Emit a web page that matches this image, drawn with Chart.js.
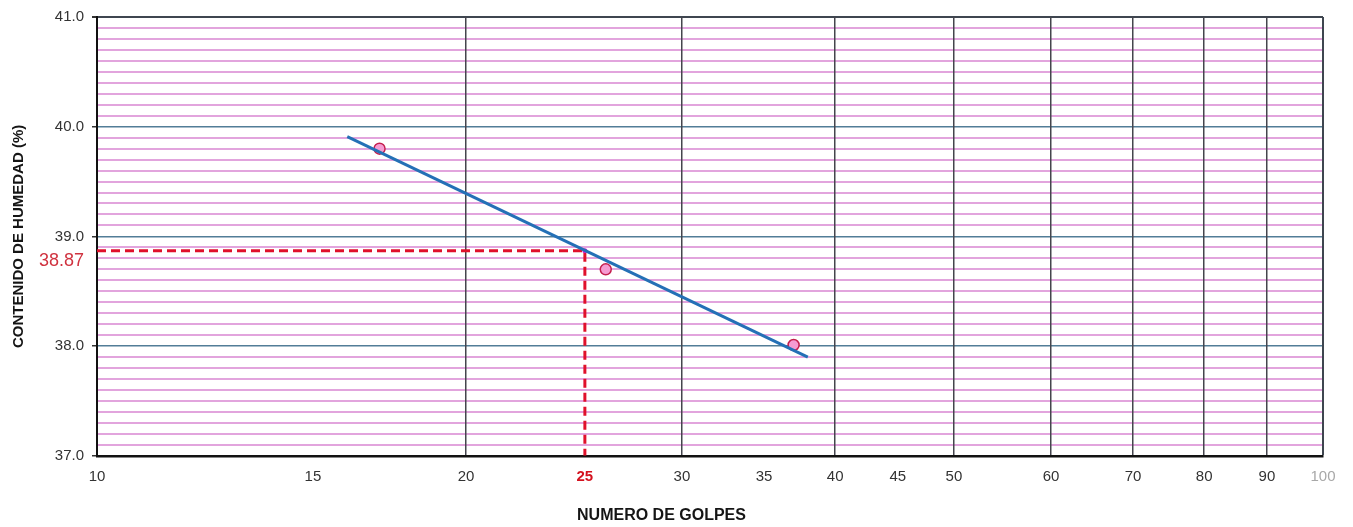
<!DOCTYPE html>
<html>
<head>
<meta charset="utf-8">
<title>Límite líquido</title>
<script src="https://cdn.jsdelivr.net/npm/chart.js@4/dist/chart.umd.min.js"></script>
<style>
  html, body { margin: 0; padding: 0; background: #ffffff; }
  #wrap { width: 1353px; height: 527px; }
</style>
</head>
<body>
<div id="wrap"><canvas id="c" width="1353" height="527"></canvas></div>
<script>
// Ensayos de Casagrande: número de golpes y contenido de humedad
const golpes = [17, 26, 37];
const humedad = [39.80, 38.70, 38.01];

// Recta de tendencia (extremos)
const trendGolpes = [16, 38];
const trendHumedad = [39.91, 37.90];

// Límite líquido a 25 golpes
const limiteGolpes = 25;
const limiteHumedad = 38.87;

// Ejes
const xTicks = [10, 15, 20, 25, 30, 35, 40, 45, 50, 60, 70, 80, 90, 100];
const xGridValues = [20, 30, 40, 50, 60, 70, 80, 90];
const yMin = 37, yMax = 41;
const yMajorTicks = [37, 38, 39, 40, 41];

const FONT = "'Liberation Sans', Arial, 'DejaVu Sans', sans-serif";

// posiciones de las líneas menores cada 0.1
const yTickValues = [];
for (let i = 0; i <= (yMax - yMin) * 10; i++) {
  yTickValues.push(Math.round((yMin + i * 0.1) * 10) / 10);
}
yTickValues.push(limiteHumedad);
yTickValues.sort((a, b) => a - b);

const isMajor = v => yMajorTicks.includes(v);

const ctx = document.getElementById('c').getContext('2d');

new Chart(ctx, {
  type: 'scatter',
  data: {
    datasets: [
      {
        label: 'Tendencia',
        data: trendGolpes.map((x, i) => ({ x, y: trendHumedad[i] })),
        showLine: true,
        borderColor: '#2470b6',
        borderWidth: 3,
        pointRadius: 0,
        order: 1
      },
      {
        label: 'Ensayos',
        data: golpes.map((x, i) => ({ x, y: humedad[i] })),
        showLine: false,
        pointRadius: 5.5,
        pointBackgroundColor: '#f59bd2',
        pointBorderColor: '#c41f4e',
        pointBorderWidth: 1.5,
        order: 2
      },
      {
        label: 'Punto LL',
        data: [{ x: limiteGolpes, y: limiteHumedad }],
        showLine: false,
        pointRadius: 2.5,
        pointBackgroundColor: '#d21ccf',
        pointBorderWidth: 0,
        order: 3
      },
      {
        label: 'Límite líquido',
        data: [
          { x: xTicks[0], y: limiteHumedad },
          { x: limiteGolpes, y: limiteHumedad },
          { x: limiteGolpes, y: yMin }
        ],
        showLine: true,
        borderColor: '#e0112b',
        borderWidth: 3,
        borderDash: [9, 5],
        pointRadius: 0,
        order: 4
      }
    ]
  },
  options: {
    responsive: false,
    animation: false,
    layout: { padding: { top: 17, right: 30, left: 0, bottom: 0 } },
    plugins: {
      legend: { display: false },
      tooltip: { enabled: false },
      title: {
        display: true,
        position: 'bottom',
        text: 'NUMERO DE GOLPES',
        color: '#151515',
        font: { family: FONT, size: 16, weight: 'bold' },
        padding: { top: 6, bottom: 2 }
      }
    },
    scales: {
      x: {
        type: 'logarithmic',
        min: 10,
        max: 100,
        afterBuildTicks: s => { s.ticks = xTicks.map(v => ({ value: v })); },
        afterFit: s => { s.height = 44; },
        ticks: {
          autoSkip: false,
          maxRotation: 0,
          padding: 6,
          callback: v => String(v),
          color: c => {
            const v = c.tick && c.tick.value;
            if (v === limiteGolpes) return '#d4121f';
            if (v === 100) return '#a8a8a8';
            return '#333333';
          },
          font: c => {
            const v = c.tick && c.tick.value;
            if (v === limiteGolpes) return { family: FONT, size: 15, weight: 'bold' };
            return { family: FONT, size: 15 };
          }
        },
        grid: {
          z: -0.5,
          drawTicks: true,
          tickLength: 6,
          tickColor: 'rgba(0,0,0,0)',
          color: c => {
            const v = c.tick && c.tick.value;
            if (v === 100) return '#3f4650';
            if (xGridValues.includes(v)) return '#45454d';
            return 'rgba(0,0,0,0)';
          },
          lineWidth: c => {
            const v = c.tick && c.tick.value;
            return v === 100 ? 2 : 1.5;
          }
        },
        border: { display: true, color: '#111111', width: 2.5 }
      },
      y: {
        type: 'linear',
        min: yMin,
        max: yMax,
        afterBuildTicks: s => { s.ticks = yTickValues.map(v => ({ value: v })); },
        afterFit: s => { s.width = 97; },
        ticks: {
          autoSkip: false,
          padding: 8,
          callback: v => {
            // el valor del límite va una línea por debajo de su marca
            if (v === limiteHumedad) return ['', limiteHumedad.toFixed(2)];
            if (isMajor(v)) return v.toFixed(1);
            return '';
          },
          color: c => {
            const v = c.tick && c.tick.value;
            return v === limiteHumedad ? '#d0323f' : '#333333';
          },
          font: c => {
            const v = c.tick && c.tick.value;
            if (v === limiteHumedad) return { family: FONT, size: 18 };
            return { family: FONT, size: 15 };
          }
        },
        grid: {
          drawTicks: true,
          tickLength: 5,
          tickColor: c => {
            const v = c.tick && c.tick.value;
            return isMajor(v) ? '#333333' : 'rgba(0,0,0,0)';
          },
          color: c => {
            const v = c.tick && c.tick.value;
            if (v === limiteHumedad || v === yMin) return 'rgba(0,0,0,0)';
            if (v === yMax) return '#3f4650';
            if (isMajor(v)) return '#527d97';
            return '#e2a4dd';
          },
          lineWidth: c => {
            const v = c.tick && c.tick.value;
            if (v === yMax) return 2;
            if (isMajor(v)) return 1.5;
            return 2;
          }
        },
        border: { display: true, color: '#111111', width: 2 },
        title: {
          display: true,
          text: 'CONTENIDO DE HUMEDAD (%)',
          color: '#151515',
          font: { family: FONT, size: 15, weight: 'bold' },
          padding: { top: 10, bottom: 0 }
        }
      }
    }
  }
});
</script>
</body>
</html>
